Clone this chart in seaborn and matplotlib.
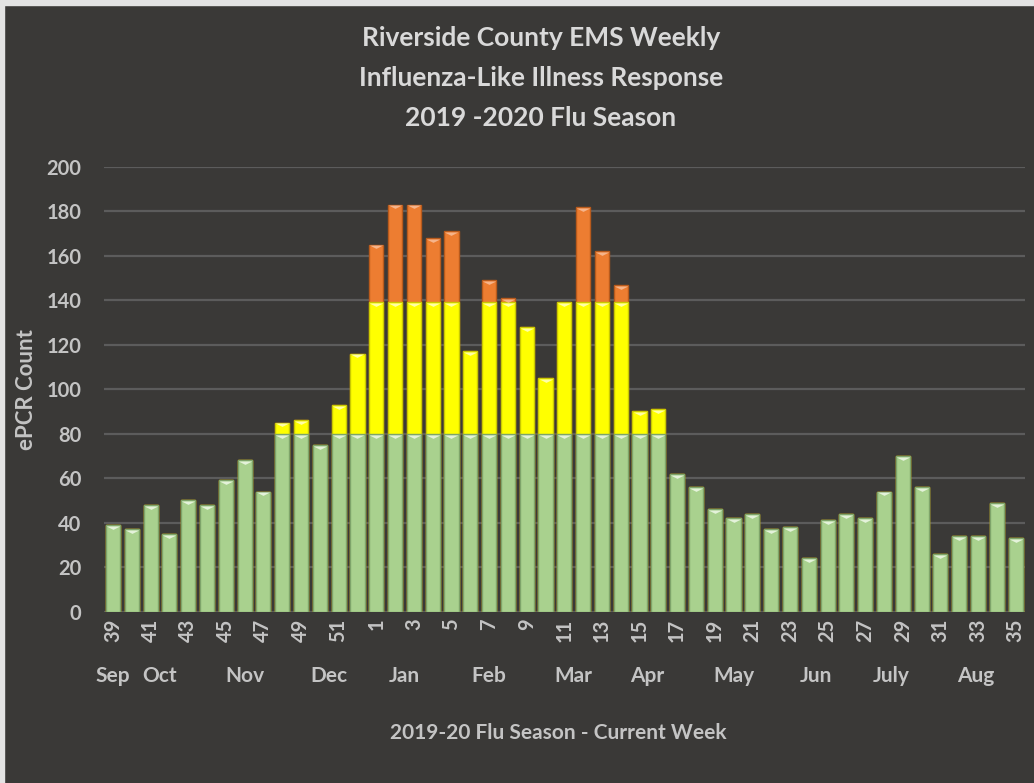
import pandas as pd
import seaborn as sns
import matplotlib.pyplot as plt
from matplotlib.path import Path
from matplotlib.patches import Rectangle

# Неделя сезона 2019-20 и общее число вызовов ILI
weeks = [str(w) for w in range(39, 53)] + [str(w) for w in range(1, 36)]
totals = [39, 37, 48, 35, 50, 48, 59, 68, 54, 85, 86, 75, 93, 116,
          165, 183, 183, 168, 171, 117, 149, 141, 128, 105, 139, 182, 162, 147,
          90, 91, 62, 56, 46, 42, 44, 37, 38, 24, 41, 44, 42, 54, 70, 56,
          26, 34, 34, 49, 33]

# пороги для цветов
green_cap = 80
yellow_cap = 139

months = ["Sep", "Oct", "Nov", "Dec", "Jan", "Feb", "Mar", "Apr", "May", "Jun", "July", "Aug"]
month_pos = [0, 2.5, 7, 11.5, 15.5, 20, 24.5, 28.4, 33, 37.4, 41.4, 45.9]

bg = "#3a3937"
txt = "#c4c4c4"

df = pd.DataFrame({"week": weeks, "total": totals})
df["yellow"] = df["total"].clip(upper=yellow_cap)
df["green"] = df["total"].clip(upper=green_cap)

sns.set_style("dark")
plt.rcParams["font.family"] = ["Lato", "DejaVu Sans"]

fig = plt.figure(figsize=(10.34, 7.83), dpi=100, facecolor=bg)
ax = fig.add_axes([0.1002, 0.2188, 0.8911, 0.5683])
ax.set_facecolor(bg)

layers = [("total", "#ed7d31", "#b85a1c"),
          ("yellow", "#ffff00", "#c9c900"),
          ("green", "#a9d18e", "#7ea46a")]
for col, color, edge in layers:
    sns.barplot(data=df, x="week", y=col, order=weeks, color=color, width=0.75,
                edgecolor=edge, linewidth=1, saturation=1, ax=ax, zorder=3)

# светлые треугольники сверху каждого сегмента (эффект фаски)
tri = Path([(-1, 0), (1, 0), (0, -0.5), (-1, 0)],
           [Path.MOVETO, Path.LINETO, Path.LINETO, Path.CLOSEPOLY])
idx = list(range(len(weeks)))
tops = [(df["green"], pd.Series([True] * len(df)), "#e4f2da"),
        (df["yellow"], df["total"] > green_cap, "#ffffa8"),
        (df["total"], df["total"] > yellow_cap, "#f6b48a")]
for vals, mask, c in tops:
    xs = [i for i in idx if mask[i]]
    ys = [vals[i] - 0.4 for i in idx if mask[i]]
    ax.scatter(xs, ys, marker=tri, s=95, color=c, linewidths=0, zorder=5)

ax.set_ylim(0, 200)
ax.set_xlim(-0.5, len(weeks) - 0.5)
ax.set_yticks(range(0, 201, 20))
ax.grid(axis="y", color="#5c5c5c", linewidth=1.6, zorder=0)
ax.grid(axis="x", visible=False)
for s in ax.spines.values():
    s.set_visible(False)

ax.set_xticks(idx[::2])
ax.set_xticklabels(weeks[::2], rotation=90, va="top")
ax.tick_params(axis="both", length=0, colors=txt, labelsize=14.5)
ax.tick_params(axis="x", pad=5)
ax.tick_params(axis="y", pad=16)
for lab in ax.get_xticklabels() + ax.get_yticklabels():
    lab.set_fontweight("bold")

ax.set_xlabel("")
ax.set_ylabel("ePCR Count", color=txt, fontsize=16, fontweight="bold", labelpad=7)

for m, p in zip(months, month_pos):
    ax.text(p, -0.145, m, transform=ax.get_xaxis_transform(), ha="center", va="center",
            color=txt, fontsize=15, fontweight="bold")

fig.text(0.540, 1 - 733 / 783, "2019-20 Flu Season - Current Week", ha="center", va="center",
         color=txt, fontsize=15, fontweight="bold")

title_lines = ["Riverside County EMS Weekly", "Influenza-Like Illness Response", "2019 -2020 Flu Season"]
for i, line in enumerate(title_lines):
    fig.text(0.523, 1 - (38 + 40 * i) / 783, line, ha="center", va="center", color="#d9d9d9",
             fontsize=19, fontweight="bold")

# светлая рамка сверху и слева
fig.add_artist(Rectangle((0, 1 - 5 / 783), 1, 5 / 783, transform=fig.transFigure, color="#e3e3e3"))
fig.add_artist(Rectangle((0, 0), 4 / 1034, 1, transform=fig.transFigure, color="#e3e3e3"))

fig.savefig("out.png", dpi=100, facecolor=bg)
